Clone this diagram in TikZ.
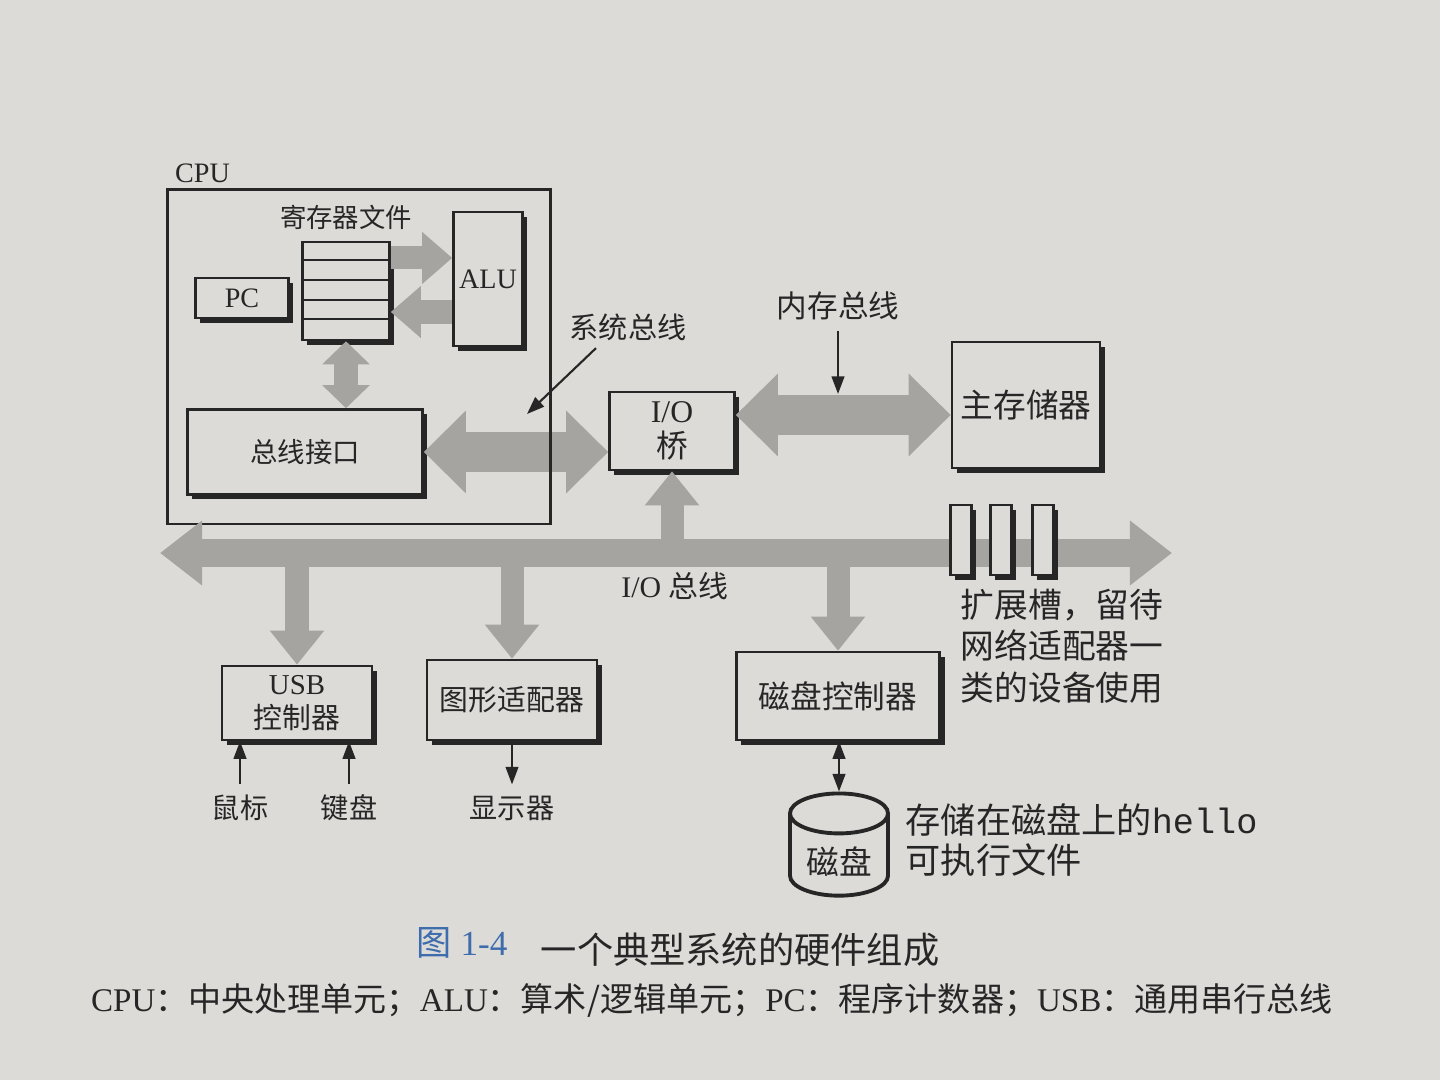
\documentclass[tikz,border=0pt]{standalone}
\usepackage{fontspec}
\setmainfont{Liberation Serif}
\setmonofont{Liberation Mono}
\newfontfamily\cjk{Noto Sans CJK SC}
\usetikzlibrary{arrows.meta,shapes.geometric,shadows}

\definecolor{paper}{RGB}{221,219,216}
\definecolor{busgray}{RGB}{166,164,161}
\definecolor{ink}{RGB}{38,38,38}
\definecolor{figblue}{RGB}{62,108,172}

\newcommand{\zh}[1]{{\cjk #1}}
\newcommand{\setfs}[2]{\fontsize{#1}{#2}\selectfont}

\tikzset{
  bighead/.tip={Triangle[width=0.8cm,length=0.42cm]},
  bushead/.tip={Triangle[width=0.62cm,length=0.42cm]},
  midhead/.tip={Triangle[width=0.52cm,length=0.34cm]},
  smallhead/.tip={Triangle[width=0.5cm,length=0.3cm]},
  shorthead/.tip={Triangle[width=0.46cm,length=0.23cm]},
  wirehead/.tip={Triangle[width=3.6pt,length=5pt]},
  unit/.style={draw=ink, line width=0.7pt, fill=paper, text=ink, align=center, inner sep=0pt,
    drop shadow={shadow xshift=1.4pt, shadow yshift=-1.4pt, fill=ink, opacity=1}},
  lbl/.style={text=ink, inner sep=0pt, align=center},
  fatbus/.style={draw=busgray, line width=0.4cm},
  iobus/.style={draw=busgray, line width=0.28cm},
  feed/.style={draw=busgray, line width=0.23cm},
  wire/.style={draw=ink, line width=0.6pt}
}

\begin{document}
\begin{tikzpicture}[x=0.01cm,y=-0.01cm]
\useasboundingbox[fill=paper] (0,0) rectangle (1440,1080);

% inside the CPU
\node[unit, minimum width=0.87cm, minimum height=0.98cm] (regfile) at (346,291) {};
\foreach \k in {1,...,4}
  \draw[wire] ([yshift=-\k*0.196cm]regfile.north west) -- ([yshift=-\k*0.196cm]regfile.north east);
\node[lbl, font=\cjk\setfs{7.5}{9}] (regname) at (346,217) {寄存器文件};
\node[unit, minimum width=0.69cm, minimum height=1.34cm, font=\setfs{8}{10}] (alu) at (488,279) {ALU};
\node[unit, minimum width=0.93cm, minimum height=0.4cm, font=\setfs{8}{10}] (pc) at (242,298) {PC};
\node[unit, minimum width=2.35cm, minimum height=0.85cm, font=\cjk\setfs{7.8}{10}] (busif) at (305,452) {总线接口};

\coordinate (rfout) at ([yshift=0.33cm]regfile.east);
\coordinate (rfin) at ([yshift=-0.21cm]regfile.east);
\draw[feed, -smallhead] (rfout) -- (rfout -| alu.west);
\draw[feed, -smallhead] (rfin -| alu.west) -- (rfin);
\draw[feed, shorthead-shorthead] (regfile.south) -- (regfile.south |- busif.north);

% bridge and memory
\node[unit, minimum width=1.25cm, minimum height=0.78cm, font=\setfs{9}{10}] (iobridge) at (672,431) {I/O\\\zh{桥}};
\node[unit, minimum width=1.48cm, minimum height=1.26cm, font=\cjk\setfs{9.3}{11}] (mainmem) at (1026,405) {主存储器};

\draw[fatbus, bighead-bighead] (busif.east) -- (busif.east -| iobridge.west);
\coordinate (membusL) at ([yshift=0.16cm]iobridge.east);
\draw[fatbus, bighead-bighead] (membusL) -- (membusL -| mainmem.west);

\node[draw=ink, line width=0.8pt, minimum width=3.82cm, minimum height=3.34cm] (cpu) at (359,357) {};
\node[lbl, anchor=south west, font=\setfs{8}{10}] (cpulbl) at ([xshift=0.08cm,yshift=1.5pt]cpu.north west) {CPU};

\node[lbl, font=\cjk\setfs{8.3}{10}] (sysbuslbl) at (628,327) {系统总线};
\coordinate (systip) at (527,414);
\draw[wire, -wirehead] ([xshift=0.27cm,yshift=-2pt]sysbuslbl.south west) -- (systip);

\node[lbl, font=\cjk\setfs{8.7}{10}] (membuslbl) at (838,306) {内存总线};
\coordinate (memtip) at (838,394);
\draw[wire, -wirehead] ([yshift=-3pt]membuslbl.south) -- (memtip);

% I/O bus and devices
\coordinate (busL) at (160,553);
\coordinate (busR) at (1172,553);

\node[unit, minimum width=1.5cm, minimum height=0.74cm, font=\setfs{8.2}{9.5}] (usb) at (297,703) {USB\\\zh{控制器}};
\node[unit, minimum width=1.7cm, minimum height=0.8cm, font=\cjk\setfs{8.2}{10}] (gfx) at (512,700) {图形适配器};
\node[unit, minimum width=2.03cm, minimum height=0.88cm, font=\cjk\setfs{9}{10}] (diskctl) at (838,696) {磁盘控制器};

\draw[feed, -midhead] (iobridge.south |- busL) -- (iobridge.south);
\draw[feed, -midhead] (usb.north |- busL) -- (usb.north);
\draw[feed, -midhead] (gfx.north |- busL) -- (gfx.north);
\draw[feed, -midhead] (diskctl.north |- busL) -- (diskctl.north);
\draw[iobus, bushead-bushead] (busL) -- (busR);

\foreach \sx [count=\i] in {961,1001,1043}
  \node[unit, minimum width=0.21cm, minimum height=0.7cm] (slot\i) at (\sx,540) {};

\node[lbl, font=\setfs{8.5}{10}] (iobuslbl) at (675,586) {I/O \zh{总线}};
\node[lbl, anchor=north west, align=left, font=\cjk\setfs{9.6}{11.8}] (slotnote) at (960,588) {扩展槽，留待\\网络适配器一\\类的设备使用};

\node[lbl, font=\cjk\setfs{8}{10}] (mouse) at (240,808) {鼠标};
\node[lbl, font=\cjk\setfs{8}{10}] (keyboard) at (349,808) {键盘};
\node[lbl, font=\cjk\setfs{8}{10}] (display) at (512,808) {显示器};
\draw[wire, -wirehead] ([yshift=3pt]mouse.north) -- (mouse.north |- usb.south);
\draw[wire, -wirehead] ([yshift=3pt]keyboard.north) -- (keyboard.north |- usb.south);
\draw[wire, -wirehead] (gfx.south) -- ([yshift=3pt]display.north);

\node[cylinder, shape border rotate=90, draw=ink, line width=1.1pt, fill=paper, text=ink,
  aspect=0.45, minimum width=0.98cm, minimum height=0.95cm, font=\cjk\setfs{9.3}{10}] (disk) at (839,862) {磁盘};
\draw[wire, wirehead-wirehead] (disk.north |- diskctl.south) -- (disk.north);
\node[lbl, anchor=west, align=left, font=\cjk\setfs{10}{11.5}] (hellonote) at (905,840) {存储在磁盘上的{\ttfamily hello}\\可执行文件};

% caption
\node[lbl, text=figblue, font=\setfs{10}{12}] (figno) at (462,943) {\zh{图} 1-4};
\node[lbl, font=\cjk\setfs{10.3}{12}] (figtitle) at (740,950) {一个典型系统的硬件组成};
\node[lbl, font=\setfs{9.4}{11}] (figkey) at (712,1000) {CPU\zh{：中央处理单元；}ALU\zh{：算术/逻辑单元；}PC\zh{：程序计数器；}USB\zh{：通用串行总线}};
\end{tikzpicture}
\end{document}
